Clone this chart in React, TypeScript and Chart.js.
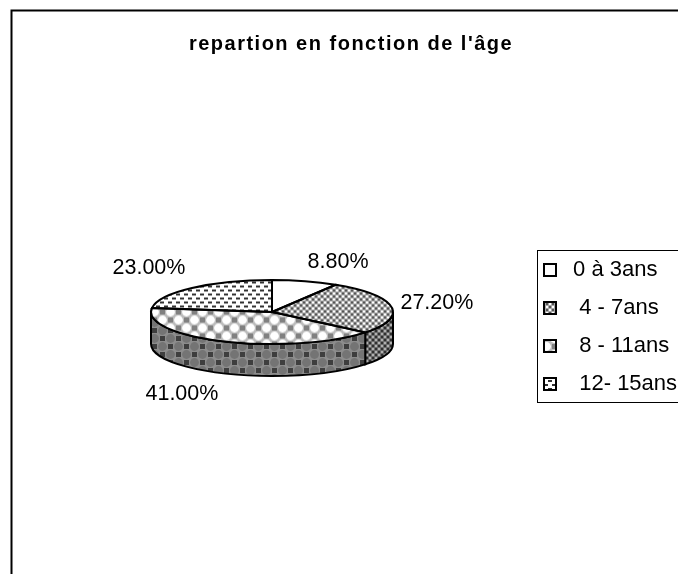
import React, { useEffect, useRef } from "react";
import { Chart, registerables } from "chart.js";

Chart.register(...registerables);

const categories = [" 0 à 3ans", "  4 - 7ans", "  8 - 11ans", "  12- 15ans"];
const values = [8.8, 27.2, 41.0, 23.0];
const titleText = "repartion en fonction de l'âge";
const labelOffsets = [
  [33, -19],
  [45.5, -4],
  [-42, 53],
  [-43, -20],
];
const FONT = "'Liberation Sans', Arial, sans-serif";
const CX = 272;
const CY = 312;
const RX = 121;
const RY = 32;
const DEPTH = 32;
const K = RY / RX;

type Painter = (c: CanvasRenderingContext2D) => void;

function rects(c: CanvasRenderingContext2D, color: string, list: number[][]) {
  c.fillStyle = color;
  list.forEach(([x, y, w, h]) => c.fillRect(x, y, w, h));
}

function disks(c: CanvasRenderingContext2D, color: string, list: number[][], r: number) {
  c.fillStyle = color;
  list.forEach(([x, y]) => {
    c.beginPath();
    c.arc(x, y, r, 0, Math.PI * 2);
    c.fill();
  });
}

function makePattern(ctx: CanvasRenderingContext2D, w: number, paint: Painter, flatten: boolean) {
  const cell = document.createElement("canvas");
  cell.width = w;
  cell.height = w;
  paint(cell.getContext("2d")!);
  const p = ctx.createPattern(cell, "repeat")!;
  if (flatten) p.setTransform(new DOMMatrix().scale(1, 1 / K));
  return p;
}

const hatch = (bg: string, dark: string, light: string): Painter => (c) => {
  rects(c, bg, [[0, 0, 6, 6]]);
  rects(c, dark, [[3, 0, 2, 2], [0, 3, 2, 2]]);
  rects(c, light, [[0, 0, 2, 2], [3, 3, 2, 2]]);
};

const balls = (bg: string, disk: string, square: string): Painter => (c) => {
  rects(c, bg, [[0, 0, 16, 16]]);
  disks(c, disk, [[10.5, 2.5], [10.5, 18.5], [2.5, 10.5], [18.5, 10.5]], 4.4);
  rects(c, square, [[0, 0, 5, 5], [8, 8, 5, 5]]);
};

const dashes: Painter = (c) => {
  rects(c, "#ffffff", [[0, 0, 8, 8]]);
  rects(c, "#333333", [[0, 0, 4, 2], [4, 4, 4, 2]]);
};

const cellSize = [1, 6, 16, 8];
const paintFace: (Painter | null)[] = [null, hatch("#a8a8a8", "#555555", "#ffffff"), balls("#bcbcbc", "#ffffff", "#808080"), dashes];
const paintSide: (Painter | null)[] = [null, hatch("#6c6c6c", "#303030", "#b0b0b0"), balls("#8c8c8c", "#747474", "#3e3e3e"), null];

const pie3d = {
  id: "pie3d",
  afterLayout(chart: any) {
    // the pie keeps its own square; the legend sits in its frame
    const area = chart.chartArea;
    area.left = CX - RX;
    area.right = CX + RX;
    area.top = CY - RX;
    area.bottom = CY + RX;
    area.width = RX * 2;
    area.height = RX * 2;
    const lg = chart.legend;
    lg.left = 528;
    lg.right = 700;
    lg.top = 243;
    lg.bottom = 574;
    lg.width = 172;
    lg.height = 331;
    const t = chart.titleBlock;
    if (!t.spaced) {
      const draw = t.draw.bind(t);
      t.draw = (...args: any[]) => {
        const c: any = chart.ctx;
        c.save();
        c.letterSpacing = "1.5px";
        draw(...args);
        c.restore();
      };
      t.spaced = true;
    }
  },
  beforeDraw(chart: any) {
    const c: CanvasRenderingContext2D = chart.ctx;
    c.save();
    c.fillStyle = "#ffffff";
    c.fillRect(0, 0, chart.width, chart.height);
    c.strokeStyle = "#000000";
    c.lineWidth = 2;
    c.beginPath();
    c.moveTo(11.5, chart.height + 2);
    c.lineTo(11.5, 10.5);
    c.lineTo(chart.width + 2, 10.5);
    c.stroke();
    c.lineWidth = 1;
    c.strokeRect(537.5, 250.5, 160, 152);
    c.restore();
  },
  beforeDatasetsDraw(chart: any) {
    const c: CanvasRenderingContext2D = chart.ctx;
    const arcs = chart.getDatasetMeta(0).data;
    arcs.forEach((a: any, i: number) => {
      const from = Math.max(a.startAngle, 0);
      const to = Math.min(a.endAngle, Math.PI);
      if (to <= from || !paintSide[i]) return;
      const fill = makePattern(c, cellSize[i], paintSide[i]!, false);
      c.save();
      c.beginPath();
      c.ellipse(a.x, a.y, RX, RY, 0, from, to);
      c.ellipse(a.x, a.y + DEPTH, RX, RY, 0, to, from, true);
      c.closePath();
      c.fillStyle = fill;
      c.fill();
      c.strokeStyle = "#000000";
      c.lineWidth = 2;
      c.stroke();
      c.restore();
    });
    c.save();
    c.translate(CX, CY);
    c.scale(1, K);
    c.translate(-CX, -CY);
  },
  afterDatasetsDraw(chart: any) {
    const c: CanvasRenderingContext2D = chart.ctx;
    c.restore();
    const arcs = chart.getDatasetMeta(0).data;
    arcs.forEach((a: any, i: number) => {
      c.save();
      c.beginPath();
      c.moveTo(a.x, a.y);
      c.ellipse(a.x, a.y, RX, RY, 0, a.startAngle, a.endAngle);
      c.closePath();
      c.strokeStyle = "#000000";
      c.lineWidth = 2;
      c.stroke();
      const mid = (a.startAngle + a.endAngle) / 2;
      c.fillStyle = "#000000";
      c.font = `21.5px ${FONT}`;
      c.textAlign = "center";
      c.textBaseline = "middle";
      c.fillText(
        `${values[i].toFixed(2)}%`,
        a.x + RX * Math.cos(mid) + labelOffsets[i][0],
        a.y + RY * Math.sin(mid) + labelOffsets[i][1],
      );
      c.restore();
    });
  },
};

export default function App() {
  const ref = useRef<HTMLCanvasElement>(null);
  useEffect(() => {
    const ctx = ref.current!.getContext("2d")!;
    const face = paintFace.map((p, i) => (p ? makePattern(ctx, cellSize[i], p, true) : "#ffffff"));
    const swatch = paintFace.map((p, i) => (p ? makePattern(ctx, cellSize[i], p, false) : "#ffffff"));
    const chart = new Chart(ctx, {
      type: "pie",
      data: {
        labels: categories,
        datasets: [{ data: values, backgroundColor: face as any, borderWidth: 0 }],
      },
      options: {
        animation: false,
        responsive: false,
        layout: { padding: { left: 24 } },
        plugins: {
          title: {
            display: true,
            text: titleText,
            color: "#000000",
            font: { family: FONT, size: 20, weight: "bold" },
            padding: { top: 32, bottom: 0 },
          },
          legend: {
            position: "right",
            align: "start",
            labels: {
              color: "#000000",
              font: { family: FONT, size: 22 },
              boxWidth: 12,
              boxHeight: 12,
              padding: 16,
              generateLabels: () =>
                categories.map((text, i) => ({
                  text,
                  fillStyle: swatch[i] as any,
                  strokeStyle: "#000000",
                  lineWidth: 2,
                  hidden: false,
                  index: i,
                })),
            },
          },
          tooltip: { enabled: false },
        },
      },
      plugins: [pie3d],
    });
    return () => chart.destroy();
  }, []);
  return <canvas ref={ref} width={678} height={574} style={{ position: "fixed", left: 0, top: 0 }} />;
}
